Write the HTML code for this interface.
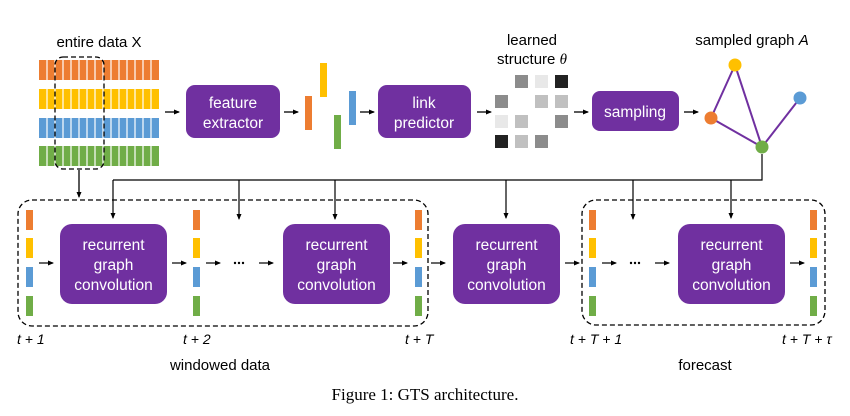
<!DOCTYPE html>
<html><head><meta charset="utf-8"><style>
html,body{margin:0;padding:0;background:#fff;width:850px;height:416px;overflow:hidden}
svg text{font-family:"Liberation Sans",sans-serif}
</style></head><body>
<svg width="850" height="416" viewBox="0 0 850 416" xmlns="http://www.w3.org/2000/svg">
<defs>
<marker id="ah" markerWidth="6" markerHeight="6" refX="5" refY="3" orient="auto" markerUnits="userSpaceOnUse">
<path d="M0,0.5 L6,3 L0,5.5 z" fill="#000"/></marker>
</defs>
<g>
<rect x="39" y="60" width="120" height="20" fill="#ed7d31"/>
<rect x="39" y="89" width="120" height="20" fill="#ffc000"/>
<rect x="39" y="118" width="120" height="20" fill="#5b9bd5"/>
<rect x="39" y="146" width="120" height="20" fill="#70ad47"/>
</g>
<g stroke="#fff" stroke-width="1.2">
<path d="M47,58V168 M55,58V168 M63,58V168 M71,58V168 M79,58V168 M87,58V168 M95,58V168 M103,58V168 M111,58V168 M119,58V168 M127,58V168 M135,58V168 M143,58V168 M151,58V168"/>
<path d="M39,84.5H159 M39,113.5H159 M39,142H159" stroke-width="8"/>
</g>
<text x="99" y="47" font-size="15" text-anchor="middle">entire data X</text>
<rect x="55" y="57" width="49" height="112" rx="8" fill="none" stroke="#000" stroke-width="1.3" stroke-dasharray="5,3"/>
<line x1="79" y1="170" x2="79" y2="197" stroke="#000" stroke-width="1.3" marker-end="url(#ah)"/>

<g stroke="#000" stroke-width="1.3" marker-end="url(#ah)">
<line x1="165" y1="112" x2="179" y2="112"/>
<line x1="284" y1="112" x2="298" y2="112"/>
<line x1="360" y1="112" x2="374" y2="112"/>
<line x1="477" y1="112" x2="491" y2="112"/>
<line x1="574" y1="112" x2="588" y2="112"/>
<line x1="684" y1="112" x2="698" y2="112"/>
</g>
<g fill="#7030a0">
<rect x="186" y="85" width="94" height="53" rx="9"/>
<rect x="378" y="85" width="93" height="53" rx="9"/>
<rect x="592" y="91" width="87" height="40" rx="8"/>
</g>
<g fill="#fff" font-size="15.5" text-anchor="middle">
<text x="233" y="108">feature</text><text x="233" y="128">extractor</text>
<text x="424" y="108">link</text><text x="424" y="128">predictor</text>
<text x="635" y="117">sampling</text>
</g>
<rect x="305" y="96" width="7" height="34" fill="#ed7d31"/>
<rect x="320" y="63" width="7" height="34" fill="#ffc000"/>
<rect x="334" y="115" width="7" height="34" fill="#70ad47"/>
<rect x="349" y="91" width="7" height="34" fill="#5b9bd5"/>

<text x="532" y="45" font-size="15" text-anchor="middle">learned</text>
<text x="532" y="64" font-size="15" text-anchor="middle">structure <tspan font-family="Liberation Serif" font-style="italic">θ</tspan></text>
<g>
<rect x="515" y="75" width="13" height="13" fill="#8c8c8c"/><rect x="535" y="75" width="13" height="13" fill="#e8e8e8"/><rect x="555" y="75" width="13" height="13" fill="#222"/>
<rect x="495" y="95" width="13" height="13" fill="#8c8c8c"/><rect x="535" y="95" width="13" height="13" fill="#c0c0c0"/><rect x="555" y="95" width="13" height="13" fill="#c0c0c0"/>
<rect x="495" y="115" width="13" height="13" fill="#e8e8e8"/><rect x="515" y="115" width="13" height="13" fill="#c0c0c0"/><rect x="555" y="115" width="13" height="13" fill="#8c8c8c"/>
<rect x="495" y="135" width="13" height="13" fill="#222"/><rect x="515" y="135" width="13" height="13" fill="#c0c0c0"/><rect x="535" y="135" width="13" height="13" fill="#8c8c8c"/>
</g>

<text x="752" y="45" font-size="15" text-anchor="middle">sampled graph <tspan font-style="italic">A</tspan></text>
<g stroke="#7030a0" stroke-width="2">
<line x1="735" y1="65" x2="711" y2="118"/><line x1="735" y1="65" x2="762" y2="147"/>
<line x1="711" y1="118" x2="762" y2="147"/><line x1="762" y1="147" x2="800" y2="98"/>
</g>
<circle cx="735" cy="65" r="6.5" fill="#ffc000"/>
<circle cx="711" cy="118" r="6.5" fill="#ed7d31"/>
<circle cx="762" cy="147" r="6.5" fill="#70ad47"/>
<circle cx="800" cy="98" r="6.5" fill="#5b9bd5"/>

<path d="M762,154V180H113" fill="none" stroke="#000" stroke-width="1.2"/>
<g stroke="#000" stroke-width="1.2" marker-end="url(#ah)">
<line x1="113" y1="180" x2="113" y2="218"/>
<line x1="239" y1="180" x2="239" y2="219"/>
<line x1="335" y1="180" x2="335" y2="219"/>
<line x1="506" y1="180" x2="506" y2="218"/>
<line x1="633" y1="180" x2="633" y2="219"/>
<line x1="731" y1="180" x2="731" y2="218"/>
</g>

<rect x="18" y="200" width="410" height="126" rx="14" fill="none" stroke="#000" stroke-width="1.3" stroke-dasharray="5,3"/>
<rect x="582" y="200" width="243" height="125" rx="14" fill="none" stroke="#000" stroke-width="1.3" stroke-dasharray="5,3"/>

<g id="col">
<rect x="26" y="210" width="7" height="20" fill="#ed7d31"/>
<rect x="26" y="238" width="7" height="20" fill="#ffc000"/>
<rect x="26" y="267" width="7" height="20" fill="#5b9bd5"/>
<rect x="26" y="296" width="7" height="20" fill="#70ad47"/>
</g>
<use href="#col" x="167"/>
<use href="#col" x="389"/>
<use href="#col" x="563"/>
<use href="#col" x="784"/>

<g fill="#7030a0">
<rect x="60" y="224" width="107" height="80" rx="12"/>
<rect x="283" y="224" width="107" height="80" rx="12"/>
<rect x="453" y="224" width="107" height="80" rx="12"/>
<rect x="678" y="224" width="107" height="80" rx="12"/>
</g>
<g fill="#fff" font-size="15.5" text-anchor="middle">
<text x="113.5" y="250">recurrent</text><text x="113.5" y="270">graph</text><text x="113.5" y="290">convolution</text>
<text x="336.5" y="250">recurrent</text><text x="336.5" y="270">graph</text><text x="336.5" y="290">convolution</text>
<text x="506.5" y="250">recurrent</text><text x="506.5" y="270">graph</text><text x="506.5" y="290">convolution</text>
<text x="731.5" y="250">recurrent</text><text x="731.5" y="270">graph</text><text x="731.5" y="290">convolution</text>
</g>
<g stroke="#000" stroke-width="1.2" marker-end="url(#ah)">
<line x1="39" y1="263" x2="53" y2="263"/>
<line x1="172" y1="263" x2="186" y2="263"/>
<line x1="206" y1="263" x2="220" y2="263"/>
<line x1="259" y1="263" x2="273" y2="263"/>
<line x1="393" y1="263" x2="407" y2="263"/>
<line x1="431" y1="263" x2="445" y2="263"/>
<line x1="565" y1="263" x2="579" y2="263"/>
<line x1="602" y1="263" x2="616" y2="263"/>
<line x1="655" y1="263" x2="669" y2="263"/>
<line x1="790" y1="263" x2="804" y2="263"/>
</g>
<g fill="#000">
<circle cx="235" cy="263" r="1.2"/><circle cx="239" cy="263" r="1.2"/><circle cx="243" cy="263" r="1.2"/>
<circle cx="631" cy="263" r="1.2"/><circle cx="635" cy="263" r="1.2"/><circle cx="639" cy="263" r="1.2"/>
</g>

<g font-size="14" font-style="italic">
<text x="17" y="344">t + 1</text>
<text x="183" y="344">t + 2</text>
<text x="405" y="344">t + T</text>
<text x="570" y="344">t + T + 1</text>
<text x="782" y="344">t + T + τ</text>
</g>
<text x="220" y="370" font-size="15" text-anchor="middle">windowed data</text>
<text x="705" y="370" font-size="15" text-anchor="middle">forecast</text>
<text x="425" y="400" font-size="17" style="font-family:'Liberation Serif',serif" text-anchor="middle">Figure 1: GTS architecture.</text>
</svg>
</body></html>
